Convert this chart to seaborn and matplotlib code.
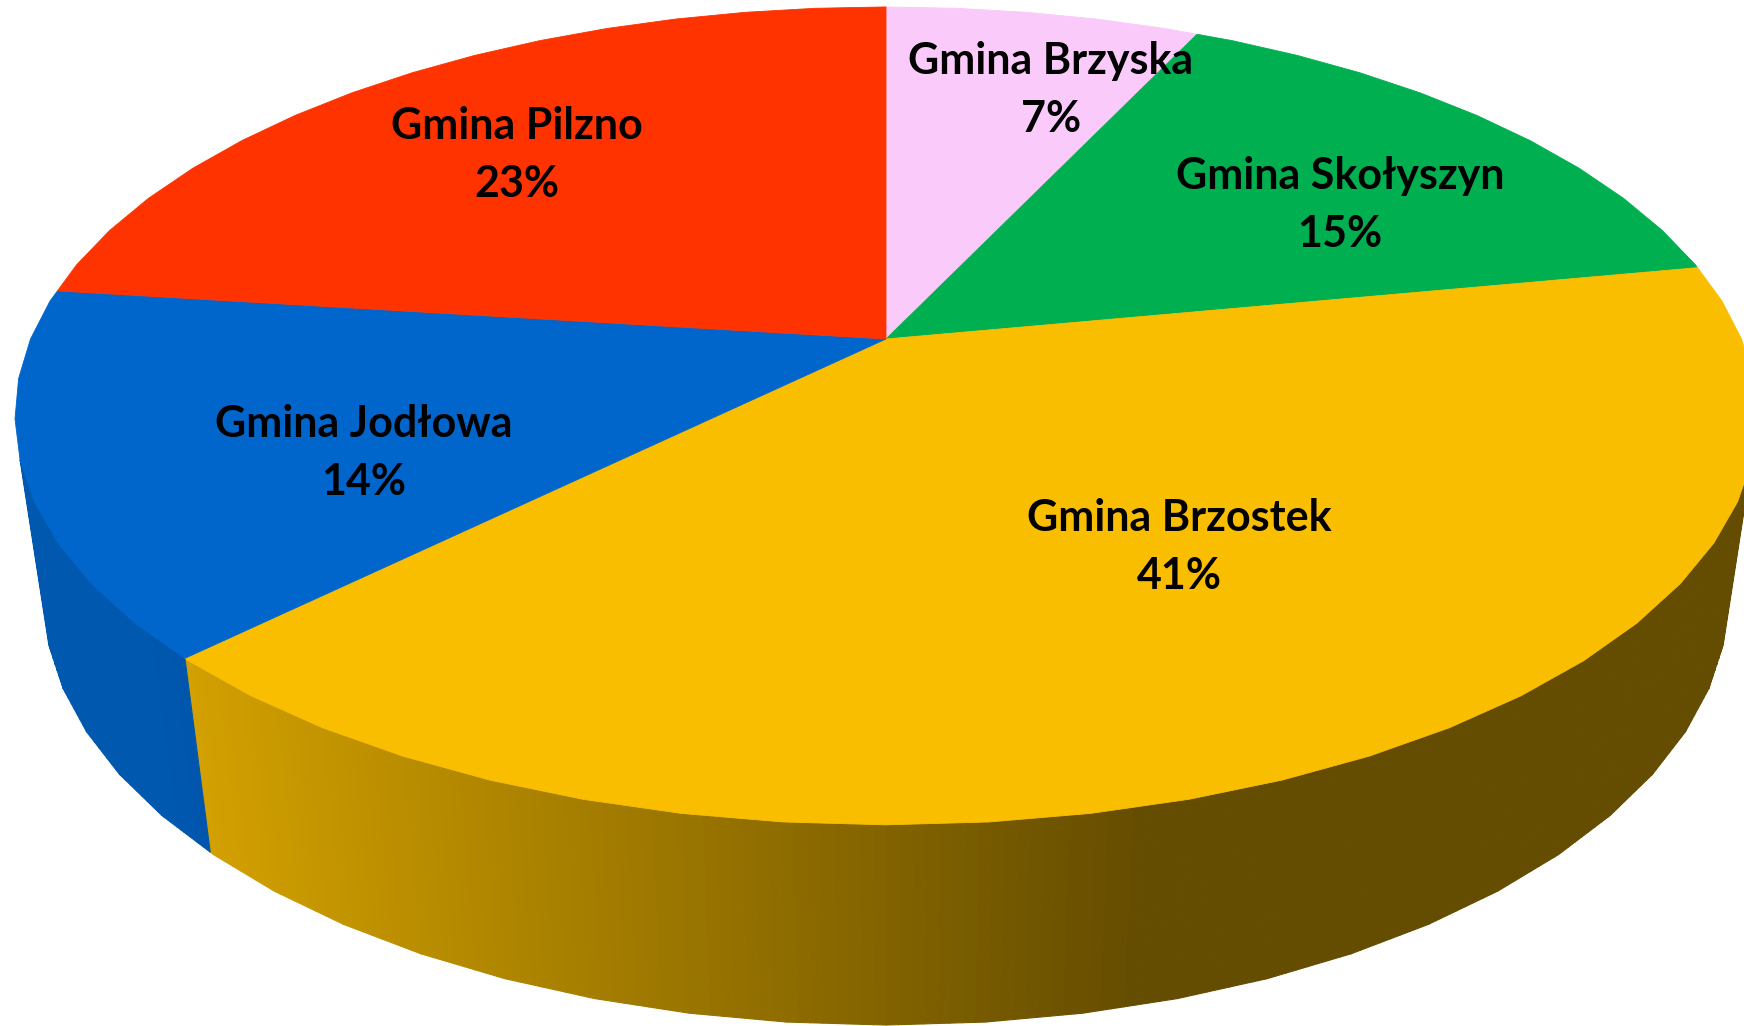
import numpy as np
import matplotlib
matplotlib.use("Agg")
import matplotlib.pyplot as plt
import matplotlib.colors as mcolors
from matplotlib.collections import PolyCollection
from matplotlib.patches import Polygon
import seaborn as sns

# ---- data ----
labels = ["Gmina Brzyska", "Gmina Skołyszyn", "Gmina Brzostek", "Gmina Jodłowa", "Gmina Pilzno"]
values = [7.0, 15.0, 40.6, 14.4, 23.0]
colors = ["#FACAFB", "#00AF50", "#FABE00", "#0066CC", "#FF3300"]

# ---- layout (pixel space) ----
label_xy = [(1051, 61), (1340, 176), (1179, 518), (364, 424), (517, 126)]
line_gap = 58

W, H = 1744, 1026
sns.set_theme(style="white")
plt.rcParams['font.family'] = ['Lato', 'DejaVu Sans']

fig = plt.figure(figsize=(W / 100, H / 100), dpi=100)
ax = fig.add_axes([0, 0, 1, 1])
ax.set_xlim(0, W)
ax.set_ylim(H, 0)
ax.axis('off')

# perspective camera
CX, CY = 886.0, 339.0
SX, SY = 855.5, 394.5
K, M, T = 0.188, 0.0325, 0.4686
STEP = 2 * np.pi / 64  # facet size of the rendered outline


def proj_exact(phi, zd):
    X = np.sin(phi)
    Y = -np.cos(phi)
    w = 1 - K * Y + M * zd
    return CX + SX * X / w, CY + SY * (Y + T * zd) / w


def proj(phi, zd):
    phi = np.asarray(phi, dtype=float)
    j = np.floor(phi / STEP + 1e-9)
    t = np.clip(phi / STEP - j, 0, 1)
    xa, ya = proj_exact(j * STEP, zd)
    xb, yb = proj_exact((j + 1) * STEP, zd)
    return xa + (xb - xa) * t, ya + (yb - ya) * t


def shade(xm):
    return float(np.clip(0.84 - (xm - 190) * 0.44 / 960, 0.40, 0.86))


def sample(a0, a1, n):
    base = np.linspace(a0, a1, n + 1)
    fac = np.arange(np.ceil(a0 / STEP), np.floor(a1 / STEP) + 1) * STEP
    fac = fac[(fac > a0) & (fac < a1)]
    return np.unique(np.concatenate([base, fac]))


total = sum(values)
fr = np.array(values) / total
edges = np.concatenate([[0], np.cumsum(fr)]) * 2 * np.pi

# side walls (front-facing only)
for i in range(len(values)):
    rgb = np.array(mcolors.to_rgb(colors[i]))
    phis = sample(edges[i], edges[i + 1], max(8, int(500 * fr[i])))
    quads, cols = [], []
    for a, b in zip(phis[:-1], phis[1:]):
        x1, y1 = proj(a, 0)
        x2, y2 = proj(b, 0)
        x3, y3 = proj(b, 1)
        x4, y4 = proj(a, 1)
        pts = np.array([(x1, y1), (x2, y2), (x3, y3), (x4, y4)])
        area = 0.5 * np.sum(pts[:, 0] * np.roll(pts[:, 1], -1) - np.roll(pts[:, 0], -1) * pts[:, 1])
        if area >= 0:
            continue
        quads.append(pts)
        cols.append(rgb * shade((x1 + x2) / 2))
    if quads:
        ax.add_collection(PolyCollection(quads, facecolors=cols, edgecolors=cols,
                                         linewidths=0.8, antialiased=True))

# top faces
for i in range(len(values)):
    phis = sample(edges[i], edges[i + 1], max(10, int(600 * fr[i])))
    xs, ys = proj(phis, 0)
    pts = np.vstack([[CX, CY], np.column_stack([xs, ys])])
    ax.add_patch(Polygon(pts, closed=True, facecolor=colors[i], edgecolor=colors[i], linewidth=0.6))

# labels
for i, name in enumerate(labels):
    x, y = label_xy[i]
    pct = f"{int(round(values[i] / total * 100))}%"
    ax.text(x, y, name, ha='center', va='center', fontsize=31, fontweight='bold', color='black')
    ax.text(x, y + line_gap, pct, ha='center', va='center', fontsize=31, fontweight='bold', color='black')

fig.savefig("out.png", dpi=100, facecolor="white")
